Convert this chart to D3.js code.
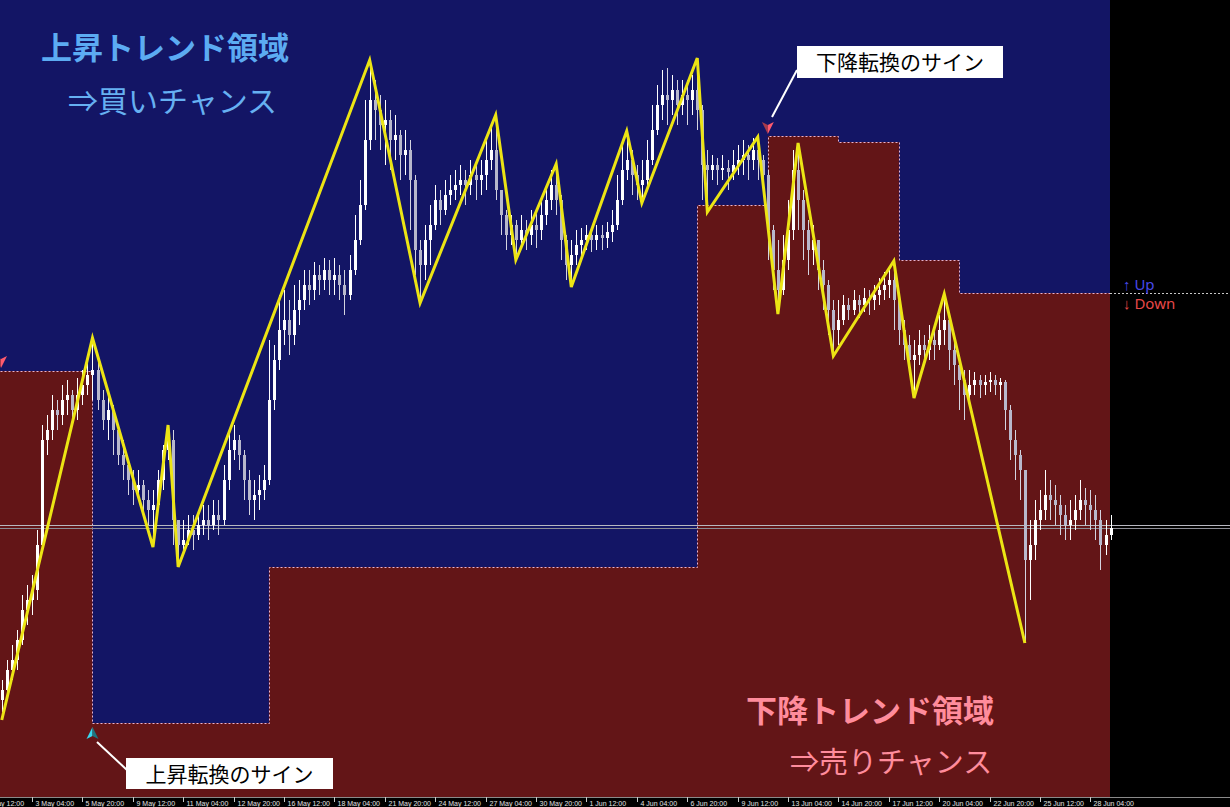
<!DOCTYPE html>
<html>
<head>
<meta charset="utf-8">
<script src="https://cdnjs.cloudflare.com/ajax/libs/d3/7.8.5/d3.min.js"></script>
<style>
  html, body { margin: 0; padding: 0; background: #000; }
  svg { display: block; }
</style>
</head>
<body>
<script>
// chart size
var width = 1230;
var height = 807;
var plotBottom = 797;
var plotRight = 1110;

// H4 candles (open = previous close)
var firstOpen = 107.00;
var closes = [
  107.10,107.30,107.40,107.60,107.90,108.00,108.10,108.55,109.60,109.70,
  109.90,109.85,110.00,110.05,109.90,110.05,110.15,110.25,110.30,110.00,
  109.80,109.90,109.70,109.45,109.35,109.20,109.10,109.15,109.00,108.90,
  108.95,109.20,109.50,109.60,108.80,108.55,108.60,108.70,108.65,108.75,
  108.80,108.75,108.85,108.80,109.20,109.50,109.60,109.45,109.20,109.00,
  109.05,109.10,109.20,110.00,110.40,110.70,110.80,110.65,110.90,111.00,
  111.15,111.10,111.25,111.20,111.30,111.20,111.25,111.15,111.05,111.30,
  111.60,111.95,112.60,113.00,112.90,112.75,112.80,112.60,112.65,112.45,
  112.50,112.20,111.50,111.35,111.60,111.75,112.00,111.90,112.05,112.10,
  112.15,112.20,112.15,112.25,112.20,112.25,112.40,112.50,112.10,111.85,
  111.65,111.75,111.60,111.70,111.65,111.75,111.70,111.85,112.00,112.15,
  112.00,111.60,111.35,111.45,111.55,111.60,111.65,111.60,111.65,111.62,
  111.68,111.75,112.00,112.30,112.40,112.25,112.15,112.20,112.40,112.70,
  112.95,113.05,113.00,113.10,112.95,113.05,113.00,113.10,112.90,112.35,
  112.30,112.35,112.30,112.32,112.28,112.35,112.40,112.45,112.40,112.50,
  112.40,112.25,111.70,111.30,111.10,111.40,111.70,112.30,112.00,111.70,
  111.50,111.60,111.30,111.15,110.90,110.70,110.80,110.95,110.90,111.00,
  110.95,111.02,111.00,111.05,111.10,111.15,111.20,111.00,110.70,110.55,
  110.40,110.45,110.55,110.50,110.60,110.55,110.70,110.80,110.50,110.35,
  110.20,110.05,110.15,110.20,110.15,110.18,110.20,110.15,110.18,109.90,
  109.60,109.45,109.30,108.40,108.55,108.80,108.90,109.05,109.00,108.95,
  108.85,108.75,108.80,108.90,109.00,108.95,108.90,108.80,108.55,108.65,
  108.72
];
var highs = [
  107.20,107.40,107.55,107.70,108.05,108.15,108.25,108.70,109.75,109.85,
  110.05,110.00,110.15,110.20,110.10,110.22,110.30,110.40,110.62,110.40,
  110.10,110.05,109.95,109.75,109.60,109.40,109.30,109.30,109.20,109.10,
  109.10,109.30,109.55,109.75,109.70,108.80,108.80,108.85,108.85,108.90,
  108.95,108.95,109.00,109.00,109.35,109.70,109.75,109.65,109.50,109.30,
  109.20,109.25,109.35,110.60,110.55,111.05,111.10,111.00,111.15,111.20,
  111.30,111.30,111.38,111.35,111.42,111.40,111.42,111.35,111.30,111.45,
  111.85,112.20,113.00,113.40,113.20,113.05,113.00,112.90,112.85,112.70,
  112.70,112.60,112.25,111.60,111.75,111.95,112.15,112.10,112.20,112.25,
  112.30,112.35,112.30,112.40,112.35,112.40,112.60,112.75,112.85,112.10,
  111.90,111.85,111.80,111.85,111.80,111.90,111.90,112.00,112.15,112.30,
  112.36,112.05,111.65,111.60,111.70,111.72,111.75,111.72,111.75,111.75,
  111.78,111.90,112.25,112.55,112.69,112.50,112.35,112.40,112.60,112.95,
  113.15,113.30,113.32,113.25,113.20,113.20,113.20,113.25,113.42,112.95,
  112.50,112.45,112.42,112.45,112.40,112.50,112.55,112.60,112.55,112.62,
  112.63,112.45,112.30,111.75,111.60,111.65,112.00,112.50,112.57,112.10,
  111.80,111.75,111.60,111.40,111.20,111.00,111.00,111.05,111.02,111.10,
  111.05,111.12,111.10,111.15,111.22,111.28,111.32,111.39,111.00,110.80,
  110.65,110.60,110.70,110.65,110.75,110.70,110.85,111.06,110.85,110.60,
  110.45,110.30,110.30,110.28,110.25,110.25,110.28,110.25,110.22,110.20,
  109.95,109.70,109.50,109.30,108.80,109.00,109.10,109.30,109.20,109.15,
  109.05,108.95,109.00,109.05,109.20,109.12,109.10,109.05,108.90,108.80,
  108.85
];
var lows = [
  106.88,107.00,107.20,107.30,107.55,107.75,107.85,108.00,108.50,109.45,
  109.60,109.70,109.75,109.85,109.75,109.80,109.95,110.05,110.00,109.90,
  109.70,109.60,109.45,109.35,109.20,109.05,108.95,109.00,108.85,108.75,
  108.53,108.90,109.10,109.40,108.55,108.33,108.45,108.55,108.50,108.60,
  108.65,108.60,108.70,108.65,108.75,109.10,109.40,109.30,109.00,108.85,
  108.80,108.90,109.00,109.15,109.90,110.30,110.55,110.45,110.55,110.75,
  110.90,110.95,111.00,111.05,111.10,111.05,111.05,111.00,110.85,111.00,
  111.25,111.55,111.90,112.50,112.60,112.50,112.35,112.30,112.40,112.20,
  112.25,111.70,111.25,110.97,111.20,111.35,111.70,111.75,111.85,111.95,
  112.00,112.05,111.95,112.05,112.00,112.05,112.10,112.30,112.00,111.65,
  111.50,111.55,111.40,111.55,111.50,111.55,111.52,111.60,111.75,111.90,
  111.85,111.40,111.20,111.13,111.35,111.45,111.50,111.48,111.50,111.50,
  111.52,111.58,111.70,111.95,112.20,112.05,112.00,111.97,112.10,112.35,
  112.65,112.80,112.75,112.85,112.75,112.85,112.75,112.85,112.70,112.00,
  111.88,112.20,112.15,112.20,112.10,112.20,112.25,112.25,112.20,112.30,
  112.20,112.05,111.40,111.10,110.86,111.05,111.30,111.60,111.70,111.40,
  111.25,111.35,111.10,110.90,110.65,110.44,110.55,110.75,110.80,110.85,
  110.82,110.88,110.85,110.90,110.95,111.00,111.02,110.70,110.55,110.40,
  110.25,110.02,110.35,110.35,110.40,110.40,110.50,110.55,110.30,110.15,
  109.90,109.80,109.95,110.05,110.02,110.05,110.08,110.05,110.00,109.70,
  109.40,109.20,109.00,107.57,108.00,108.40,108.70,108.80,108.80,108.75,
  108.65,108.60,108.60,108.70,108.80,108.75,108.70,108.60,108.30,108.45,
  108.60
];

// zigzag turning points (candle index, price)
var zzIndex = [0, 18, 30, 33, 35, 73, 83, 98, 102, 110, 113, 124, 127, 138, 140, 150, 154, 158, 165, 177, 181, 187, 203];
var zzPrice = [106.80, 110.62, 108.53, 109.75, 108.33, 113.40, 110.97, 112.85, 111.40, 112.36, 111.13, 112.69, 111.97, 113.42, 111.88, 112.63, 110.86, 112.57, 110.44, 111.39, 110.02, 111.06, 107.57];

// up/down boundary: candle index where each level starts
var stepStart = [0, 18, 53, 138, 152, 166, 178, 190];
var stepLevel = [110.29, 106.77, 108.33, 111.95, 112.64, 112.58, 111.40, 111.07];

// horizontal lines
var hLines = [108.745, 108.72];

// time axis
var tickIndex = [-4, 6, 16, 26, 36, 46, 56, 66, 76, 86, 96, 106, 116, 126, 136, 146, 156, 166, 176, 186, 196, 206, 216];
var tickLabels = ["2 May 12:00", "3 May 04:00", "5 May 20:00", "9 May 12:00", "11 May 04:00", "12 May 20:00",
  "16 May 12:00", "18 May 04:00", "21 May 20:00", "24 May 12:00", "27 May 04:00", "30 May 20:00",
  "1 Jun 12:00", "4 Jun 04:00", "6 Jun 20:00", "9 Jun 12:00", "13 Jun 04:00", "14 Jun 20:00",
  "17 Jun 12:00", "20 Jun 04:00", "22 Jun 20:00", "25 Jun 12:00", "28 Jun 04:00"];

var blue = "#131565";
var red = "#631517";

var svg = d3.select("body")
  .append("svg")
  .attr("width", width)
  .attr("height", height);

var x = d3.scaleLinear().domain([0, 220]).range([1.76, 1110.56]);
var y = d3.scaleLinear().domain([114, 106.03]).range([0, plotBottom]);

// background
svg.append("rect").attr("x", 0).attr("y", 0).attr("width", width).attr("height", height).attr("fill", "#000");
svg.append("rect").attr("x", 0).attr("y", 0).attr("width", plotRight).attr("height", plotBottom).attr("fill", blue);

// red (down) area
var steps = stepStart.map(function(s, k) { return {x: k === 0 ? 0 : x(s), v: stepLevel[k]}; });
steps.push({x: plotRight, v: stepLevel[stepLevel.length - 1]});

svg.append("path")
  .datum(steps)
  .attr("fill", red)
  .attr("d", d3.area()
    .curve(d3.curveStepAfter)
    .x(function(d) { return d.x; })
    .y0(plotBottom)
    .y1(function(d) { return y(d.v); }));

svg.append("path")
  .datum(steps)
  .attr("fill", "none")
  .attr("stroke", "#e6b4d2")
  .attr("stroke-width", 1)
  .attr("stroke-dasharray", "2,2")
  .attr("d", d3.line()
    .curve(d3.curveStepAfter)
    .x(function(d) { return Math.round(d.x) + 0.5; })
    .y(function(d) { return Math.round(y(d.v)) + 0.5; }));

// level line continues into the empty right margin
var lastLevel = stepLevel[stepLevel.length - 1];
svg.append("line")
  .attr("x1", plotRight).attr("x2", width)
  .attr("y1", Math.round(y(lastLevel)) + 0.5).attr("y2", Math.round(y(lastLevel)) + 0.5)
  .attr("stroke", "#c8c8c8")
  .attr("stroke-dasharray", "2,2");

svg.append("text").attr("x", 1123).attr("y", 290)
  .attr("font-family", "'Noto Sans', sans-serif").attr("font-size", 15)
  .attr("fill", "#4848e8").text("↑ Up");
svg.append("text").attr("x", 1123).attr("y", 309)
  .attr("font-family", "'Noto Sans', sans-serif").attr("font-size", 15)
  .attr("fill", "#e84848").text("↓ Down");

// horizontal price lines
svg.selectAll(".hline")
  .data(hLines)
  .enter()
  .append("line")
  .attr("class", "hline")
  .attr("x1", 0).attr("x2", width)
  .attr("y1", function(d) { return Math.round(y(d)) + 0.5; })
  .attr("y2", function(d) { return Math.round(y(d)) + 0.5; })
  .attr("stroke", function(d, i) { return i === 0 ? "#b8b8c0" : "#8c8c94"; })
  .attr("stroke-width", 1);

// candles
var candles = closes.map(function(c, i) {
  return {i: i, o: i === 0 ? firstOpen : closes[i - 1], c: c, h: highs[i], l: lows[i]};
});

var cg = svg.append("g");
cg.selectAll(".wick")
  .data(candles)
  .enter()
  .append("line")
  .attr("class", "wick")
  .attr("x1", function(d) { return Math.round(x(d.i)) + 0.5; })
  .attr("x2", function(d) { return Math.round(x(d.i)) + 0.5; })
  .attr("y1", function(d) { return y(Math.max(d.h, d.o, d.c)); })
  .attr("y2", function(d) { return y(Math.min(d.l, d.o, d.c)); })
  .attr("stroke", function(d) { return d.c >= d.o ? "#ffffff" : "#d4d4e0"; })
  .attr("stroke-width", 1);

cg.selectAll(".body")
  .data(candles)
  .enter()
  .append("rect")
  .attr("class", "body")
  .attr("x", function(d) { return Math.round(x(d.i)) - 1; })
  .attr("width", 3)
  .attr("y", function(d) { return y(Math.max(d.o, d.c)); })
  .attr("height", function(d) { return Math.max(1, Math.abs(y(d.o) - y(d.c))); })
  .attr("fill", function(d) { return d.c >= d.o ? "#ffffff" : "#b8b8cc"; });

// zigzag
var zz = zzIndex.map(function(i, k) { return {i: i, p: zzPrice[k]}; });
svg.append("path")
  .datum(zz)
  .attr("fill", "none")
  .attr("stroke", "#ece414")
  .attr("stroke-width", 3)
  .attr("stroke-linejoin", "miter")
  .attr("d", d3.line()
    .x(function(d) { return x(d.i); })
    .y(function(d) { return y(d.p); }));

// signal arrows
function arrowUp(cx, cy) {
  var g = svg.append("g").attr("transform", "translate(" + cx + "," + cy + ")");
  g.append("path").attr("d", "M0,-6 L-6,6 L0,3 Z").attr("fill", "#3ad8f0");
  g.append("path").attr("d", "M0,-6 L6,6 L0,3 Z").attr("fill", "#1d7480");
}
function arrowDown(cx, cy) {
  var g = svg.append("g").attr("transform", "translate(" + cx + "," + cy + ")");
  g.append("path").attr("d", "M0,6 L-6,-6 L0,-3 Z").attr("fill", "#a83a4a");
  g.append("path").attr("d", "M0,6 L6,-6 L0,-3 Z").attr("fill", "#ff5a6e");
}
arrowUp(x(18), y(stepLevel[1]) + 10);
arrowDown(x(152), y(stepLevel[4]) - 8);
arrowDown(1, y(stepLevel[0]) - 9);

// callouts
svg.append("line").attr("x1", 772).attr("y1", 117).attr("x2", 797).attr("y2", 70)
  .attr("stroke", "#fff").attr("stroke-width", 2);
svg.append("rect").attr("x", 797).attr("y", 46).attr("width", 206).attr("height", 32).attr("fill", "#fff");
svg.append("text").attr("x", 900).attr("y", 70).attr("text-anchor", "middle")
  .attr("font-family", "'Noto Sans CJK JP', sans-serif").attr("font-size", 21)
  .attr("fill", "#000").text("下降転換のサイン");

svg.append("line").attr("x1", 97).attr("y1", 742).attr("x2", 127).attr("y2", 770)
  .attr("stroke", "#fff").attr("stroke-width", 2);
svg.append("rect").attr("x", 126).attr("y", 758).attr("width", 207).attr("height", 31).attr("fill", "#fff");
svg.append("text").attr("x", 229.5).attr("y", 782).attr("text-anchor", "middle")
  .attr("font-family", "'Noto Sans CJK JP', sans-serif").attr("font-size", 21)
  .attr("fill", "#000").text("上昇転換のサイン");

// zone captions
svg.append("text").attr("x", 41).attr("y", 59)
  .attr("font-family", "'Noto Sans CJK JP', sans-serif").attr("font-size", 31).attr("font-weight", "bold")
  .attr("fill", "#5cabf2").text("上昇トレンド領域");
svg.append("text").attr("x", 68).attr("y", 112)
  .attr("font-family", "'Noto Sans CJK JP', sans-serif").attr("font-size", 30)
  .attr("fill", "#66b0f2").text("⇒買いチャンス");
svg.append("text").attr("x", 746).attr("y", 722)
  .attr("font-family", "'Noto Sans CJK JP', sans-serif").attr("font-size", 31).attr("font-weight", "bold")
  .attr("fill", "#ff8c9c").text("下降トレンド領域");
svg.append("text").attr("x", 790).attr("y", 773)
  .attr("font-family", "'Noto Sans CJK JP', sans-serif").attr("font-size", 29)
  .attr("fill", "#ff8c9c").text("⇒売りチャンス");

// time axis strip
svg.append("rect").attr("x", 0).attr("y", plotBottom).attr("width", width).attr("height", height - plotBottom).attr("fill", "#000");
svg.append("line").attr("x1", 0).attr("x2", width).attr("y1", plotBottom + 0.5).attr("y2", plotBottom + 0.5)
  .attr("stroke", "#8a8a8a");

var ticks = svg.selectAll(".tick")
  .data(tickIndex)
  .enter()
  .append("g")
  .attr("class", "tick")
  .attr("transform", function(d) { return "translate(" + (Math.round(x(d)) + 0.5) + ",0)"; });
ticks.append("line").attr("y1", plotBottom).attr("y2", plotBottom + 5).attr("stroke", "#c8c8c8");
ticks.append("text")
  .attr("x", 3).attr("y", 806)
  .attr("font-family", "'Liberation Sans', Arial, sans-serif").attr("font-size", 7)
  .attr("fill", "#e0e0e0")
  .text(function(d, i) { return tickLabels[i]; });
</script>
</body>
</html>
